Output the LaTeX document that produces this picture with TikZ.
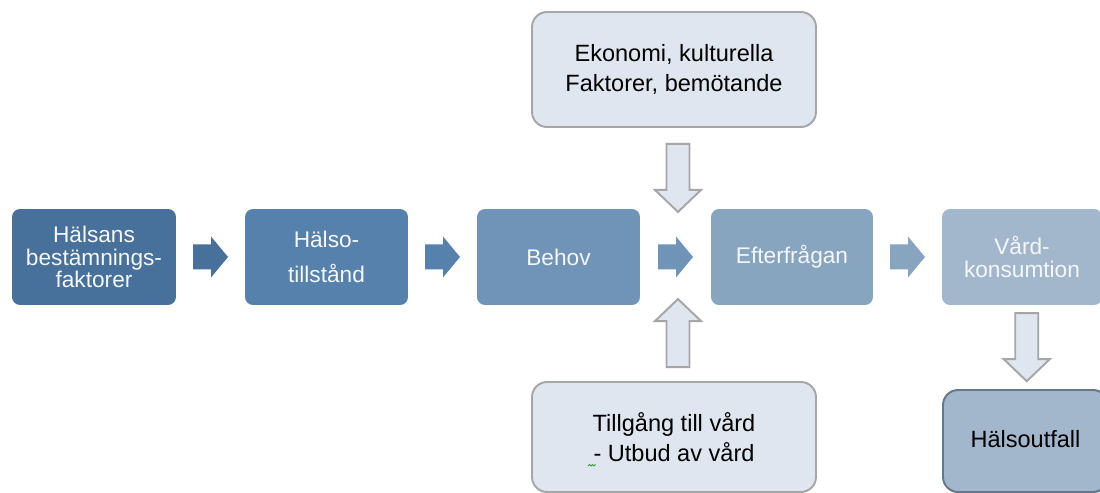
\documentclass[tikz,border=0pt]{standalone}
\usepackage{fontspec}
\setmainfont{Liberation Sans}
\usetikzlibrary{calc,shadows}
\definecolor{cA}{HTML}{47709A}
\definecolor{cB}{HTML}{5581AC}
\definecolor{cC}{HTML}{6F94B7}
\definecolor{cD}{HTML}{88A5C0}
\definecolor{cE}{HTML}{A2B7CB}
\definecolor{paleFill}{HTML}{DFE6EF}
\definecolor{paleLine}{HTML}{A6A6A6}
\definecolor{outLine}{HTML}{66778A}
\definecolor{boxText}{HTML}{F4F6F8}
\definecolor{squiggle}{HTML}{3A9A3A}
\tikzset{
  mbox/.style={rounded corners=0.16cm, minimum height=1.92cm, inner sep=0pt,
    align=center, text=boxText, font=\fontsize{12.9}{12.75}\selectfont},
  palebox/.style={rounded corners=0.3cm, fill=paleFill, draw=paleLine, line width=1.1pt,
    inner sep=0pt, align=center, text=black, minimum width=5.68cm,
    font=\fontsize{13.4}{17}\selectfont},
  rarrow/.pic={\path[pic actions] (-17.5,-12.5) -- (0.5,-12.5) -- (0.5,-20.5) -- (17.5,0)
     -- (0.5,20.5) -- (0.5,12.5) -- (-17.5,12.5) -- cycle;},
  darrow/.pic={\path[pic actions] (-11.5,-34) -- (11.5,-34) -- (11.5,12) -- (23,12) -- (0,34)
     -- (-23,12) -- (-11.5,12) -- cycle;},
  palearrow/.style={fill=paleFill, draw=paleLine, line width=1.1pt}
}
\begin{document}
\begin{tikzpicture}[x=0.02cm,y=-0.02cm]
\clip (0,0) rectangle (1100,493);
\fill[white] (0,0) rectangle (1100,493);
% main chain
\node[mbox, fill=cA, minimum width=3.28cm] (b1) at (94,257) {Hälsans\\bestämnings-\\faktorer};
\node[mbox, fill=cB, minimum width=3.26cm, font=\fontsize{12.9}{19.8}\selectfont] (b2) at (326.5,257) {Hälso-\\tillstånd};
\node[mbox, fill=cC, minimum width=3.26cm] (b3) at (558.5,257) {Behov};
\node[mbox, fill=cD, minimum width=3.24cm] (b4) at (792,257) {Efterfrågan};
\node[mbox, fill=cE, minimum width=3.20cm, font=\fontsize{12.9}{13.6}\selectfont] (b5) at (1022,257) {Vård-\\konsumtion};
% side boxes
\node[palebox, minimum height=2.30cm] (top) at (674,69.5) {Ekonomi, kulturella\\Faktorer, bemötande};
\node[palebox, minimum height=2.20cm] (bot) at (674,437) {Tillgång till vård\\- Utbud av vård};
\node[rounded corners=0.3cm, fill=cE, draw=outLine, line width=1.1pt, inner sep=0pt,
  minimum width=3.30cm, minimum height=2.04cm, text=black,
  font=\fontsize{13.4}{13.4}\selectfont,
  drop shadow={shadow xshift=0.6pt, shadow yshift=-0.8pt, opacity=0.35}] (out) at (1025.5,441) {\raisebox{2pt}{Hälsoutfall}};
% spell-check squiggle under the dash
\draw[squiggle, line width=0.5pt] ($(bot.center)+(-86,29)$) -- ++(1.5,-1.5) -- ++(1.5,1.5) -- ++(1.5,-1.5) -- ++(1.5,1.5) -- ++(1.5,-1.5);
% horizontal block arrows
\pic[fill=cA] at ($(b1.east)!0.5!(b2.west)$) {rarrow};
\pic[fill=cB] at ($(b2.east)!0.5!(b3.west)$) {rarrow};
\pic[fill=cC] at ($(b3.east)!0.5!(b4.west)$) {rarrow};
\pic[fill=cD] at ($(b4.east)!0.5!(b5.west)$) {rarrow};
% vertical block arrows
\pic[palearrow] at ($(top.south)+(4,50)$) {darrow};
\pic[palearrow, rotate=180] at ($(bot.north)+(4,-48)$) {darrow};
\pic[palearrow] at ($($(b5.south)!0.5!(out.north)$)+(3,0)$) {darrow};
\end{tikzpicture}
\end{document}
